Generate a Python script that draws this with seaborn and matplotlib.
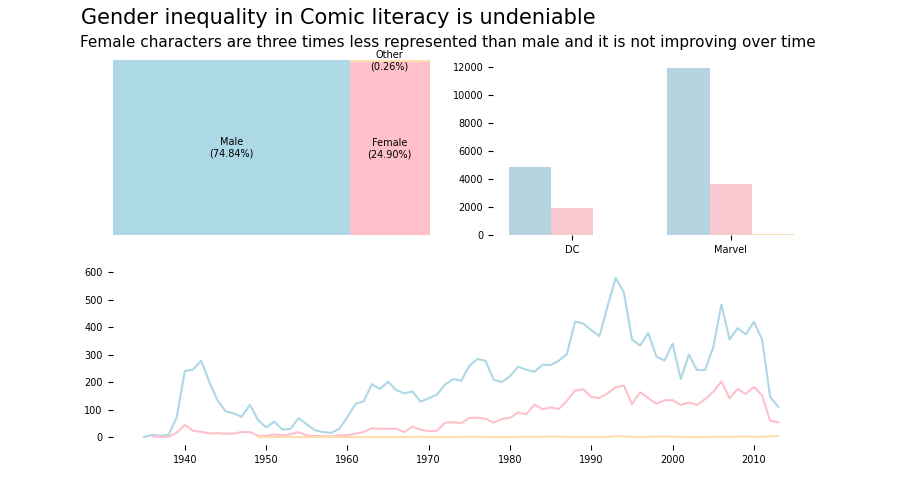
import matplotlib
matplotlib.use("Agg")
import matplotlib.pyplot as plt
import matplotlib.patches as mpatches
import seaborn as sns
import pandas as pd

# ---------------- data ----------------
sex_labels = ["Male", "Female", "Other"]
sex_colors = ["lightblue", "pink", "navajowhite"]
share_pct = [74.84, 24.90, 0.26]

companies = ["DC", "Marvel"]
dc_counts = [4847, 1924, 10]
marvel_counts = [11903, 3635, 48]

male_years = list(range(1935, 2014))
male_counts = [0, 8, 4, 8, 72, 241, 245, 278, 201, 135, 94, 86, 74, 118, 62, 35,
               56, 27, 30, 69, 46, 25, 18, 15, 30, 73, 121, 130, 192, 175, 201, 171,
               159, 166, 129, 141, 154, 191, 211, 205, 259, 284, 277, 208, 200, 222,
               256, 245, 238, 263, 262, 278, 302, 420, 413, 389, 367, 476, 579, 527,
               355, 333, 379, 293, 278, 340, 211, 300, 244, 244, 327, 482, 355, 396,
               374, 419, 355, 147, 109]

female_years = list(range(1936, 2014))
female_counts = [2, 1, 1, 16, 44, 23, 19, 13, 14, 12, 13, 18, 18, 5, 4, 10, 6, 10,
                 18, 6, 4, 3, 3, 6, 7, 12, 18, 32, 30, 30, 30, 18, 38, 27, 21, 23,
                 52, 54, 50, 70, 70, 67, 52, 66, 70, 89, 83, 118, 101, 108, 102, 132,
                 169, 174, 146, 142, 159, 182, 187, 120, 163, 142, 121, 134, 134, 117,
                 126, 117, 138, 165, 202, 141, 175, 157, 183, 151, 59, 54]

other_years = list(range(1949, 2014))
other_counts = [0, 0, 0, 0, 0, 0, 0, 0, 0, 0, 0, 0, 0, 0, 0, 0, 0, 0, 0, 1, 1, 0,
                0, 0, 0, 1, 1, 1, 0, 0, 0, 0, 1, 1, 1, 1, 2, 1, 1, 0, 1, 0, 1, 0,
                3, 2, 1, 0, 1, 2, 2, 1, 1, 0, 0, 0, 1, 1, 1, 1, 2, 1, 1, 2, 4]

title = "Gender inequality in Comic literacy is undeniable"
subtitle = ("Female characters are three times less represented than male "
            "and it is not improving over time")


# ---------------- squarify layout ----------------
def _layoutrow(sizes, x, y, dx, dy):
    covered = sum(sizes)
    width = covered / dy
    rects = []
    for s in sizes:
        rects.append((x, y, width, s / width))
        y += s / width
    return rects


def _layoutcol(sizes, x, y, dx, dy):
    covered = sum(sizes)
    height = covered / dx
    rects = []
    for s in sizes:
        rects.append((x, y, s / height, height))
        x += s / height
    return rects


def _layout(sizes, x, y, dx, dy):
    return _layoutrow(sizes, x, y, dx, dy) if dx >= dy else _layoutcol(sizes, x, y, dx, dy)


def _leftover(sizes, x, y, dx, dy):
    covered = sum(sizes)
    if dx >= dy:
        w = covered / dy
        return x + w, y, dx - w, dy
    h = covered / dx
    return x, y + h, dx, dy - h


def _worst(sizes, x, y, dx, dy):
    return max(max(r[2] / r[3], r[3] / r[2]) for r in _layout(sizes, x, y, dx, dy))


def squarify(sizes, x, y, dx, dy):
    if not sizes:
        return []
    if len(sizes) == 1:
        return _layout(sizes, x, y, dx, dy)
    i = 1
    while i < len(sizes) and _worst(sizes[:i], x, y, dx, dy) >= _worst(sizes[:i + 1], x, y, dx, dy):
        i += 1
    cur, rem = sizes[:i], sizes[i:]
    return _layout(cur, x, y, dx, dy) + squarify(rem, *_leftover(cur, x, y, dx, dy))


# ---------------- plotting ----------------
plt.rcParams["font.family"] = ["DejaVu Sans"]
plt.rcParams["xtick.labelsize"] = 7
plt.rcParams["ytick.labelsize"] = 7

fig = plt.figure(figsize=(9, 5), dpi=100)
gs = fig.add_gridspec(2, 2)
ax_tree = fig.add_subplot(gs[0, 0])
ax_bar = fig.add_subplot(gs[0, 1])
ax_line = fig.add_subplot(gs[1, :])

# treemap
total = sum(share_pct)
norm = [v * 100 * 100 / total for v in share_pct]
rects = squarify(norm, 0, 0, 100, 100)
for (rx, ry, rw, rh), lab, pct, col in zip(rects, sex_labels, share_pct, sex_colors):
    ax_tree.add_patch(mpatches.Rectangle((rx, ry), rw, rh, facecolor=col, edgecolor="none"))
    ax_tree.text(rx + rw / 2, ry + rh / 2, f"{lab}\n({pct:.2f}%)", ha="center",
                 va="center", fontsize=7)
ax_tree.set_xlim(0, 100)
ax_tree.set_ylim(0, 100)
ax_tree.axis("off")

# bars
bar_df = pd.DataFrame({
    "company": [c for c in companies for _ in sex_labels],
    "sex": sex_labels * len(companies),
    "count": dc_counts + marvel_counts,
})
sns.barplot(data=bar_df, x="company", y="count", hue="sex", hue_order=sex_labels,
            palette=sex_colors, ax=ax_bar, legend=False, linewidth=0)
ax_bar.set_xlabel("")
ax_bar.set_ylabel("")
sns.despine(ax=ax_bar, left=True, bottom=True)

# lines
line_df = pd.concat([
    pd.DataFrame({"year": male_years, "count": male_counts, "sex": "Male"}),
    pd.DataFrame({"year": female_years, "count": female_counts, "sex": "Female"}),
    pd.DataFrame({"year": other_years, "count": other_counts, "sex": "Other"}),
])
sns.lineplot(data=line_df, x="year", y="count", hue="sex", hue_order=sex_labels,
             palette=sex_colors, ax=ax_line, legend=False, linewidth=1.5)
ax_line.set_xlabel("")
ax_line.set_ylabel("")
ax_line.set_yticks([0, 100, 200, 300, 400, 500, 600])
sns.despine(ax=ax_line, left=True, bottom=True)

fig.text(0.09, 0.964, title, fontsize=15, ha="left", va="center")
fig.text(0.089, 0.916, subtitle, fontsize=11, ha="left", va="center")

fig.savefig("out.png", dpi=100)
